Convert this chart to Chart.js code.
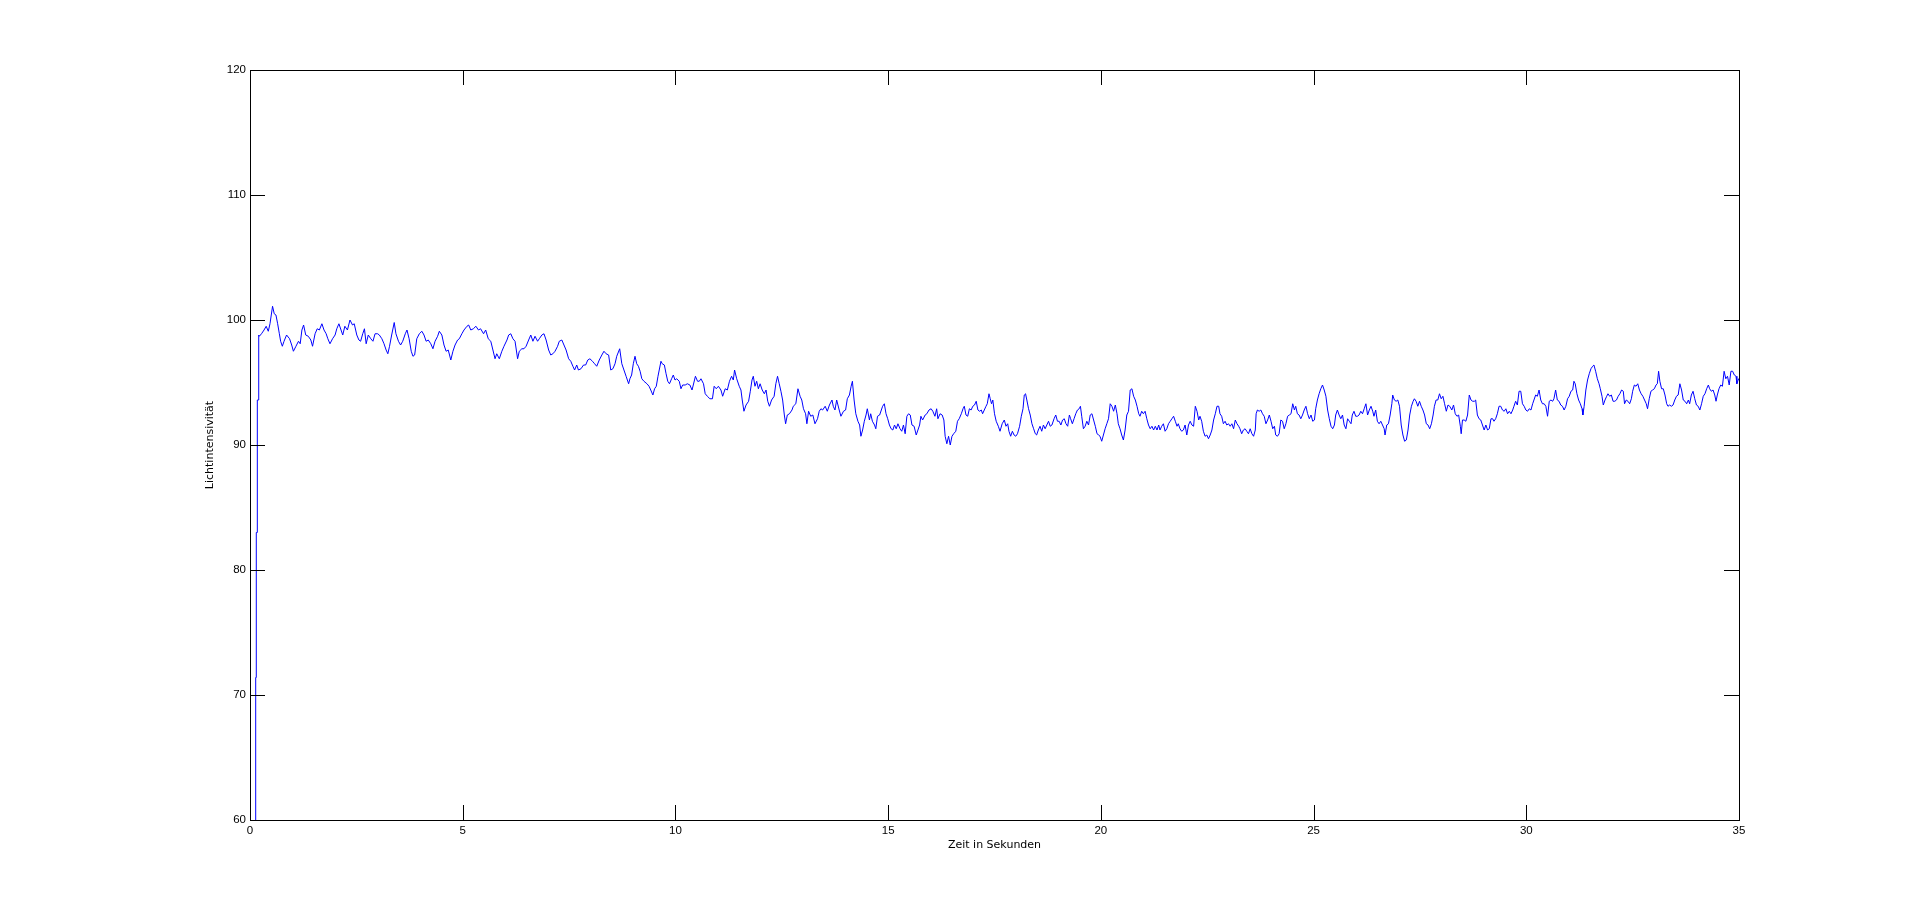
<!DOCTYPE html>
<html>
<head>
<meta charset="utf-8">
<title>Lichtintensivität</title>
<script src="https://cdn.jsdelivr.net/npm/chart.js@4.4.1/dist/chart.umd.min.js"></script>
<style>
    html, body { margin: 0; padding: 0; background: #fff; }
    canvas { display: block; }
</style>
</head>
<body>
<canvas id="licht-chart" width="1921" height="921"></canvas>
<script>
// Messzeit in Sekunden (x) und Lichtintensität (y)
const zeit = [
    0.13, 0.134, 0.148, 0.148, 0.172, 0.172, 0.205, 0.205, 0.22, 0.27,
    0.33, 0.38, 0.43, 0.47, 0.53, 0.57, 0.61, 0.65, 0.69, 0.72,
    0.76, 0.80, 0.86, 0.93, 0.98, 1.02, 1.08, 1.14, 1.18, 1.22,
    1.26, 1.31, 1.37, 1.43, 1.47, 1.53, 1.58, 1.63, 1.69, 1.74,
    1.79, 1.83, 1.88, 1.94, 2.00, 2.04, 2.09, 2.14, 2.18, 2.23,
    2.29, 2.35, 2.41, 2.45, 2.51, 2.56, 2.60, 2.65, 2.69, 2.73,
    2.78, 2.84, 2.89, 2.94, 3.00, 3.04, 3.10, 3.15, 3.20, 3.24,
    3.28, 3.33, 3.39, 3.43, 3.49, 3.54, 3.59, 3.65, 3.69, 3.74,
    3.79, 3.83, 3.87, 3.92, 3.98, 4.04, 4.09, 4.14, 4.19, 4.25,
    4.30, 4.35, 4.41, 4.45, 4.51, 4.56, 4.61, 4.66, 4.72, 4.77,
    4.82, 4.88, 4.92, 4.98, 5.03, 5.10, 5.14, 5.19, 5.25, 5.31,
    5.37, 5.42, 5.49, 5.54, 5.60, 5.66, 5.71, 5.76, 5.80, 5.86,
    5.92, 5.97, 6.04, 6.08, 6.13, 6.18, 6.23, 6.29, 6.33, 6.39,
    6.44, 6.49, 6.55, 6.60, 6.65, 6.70, 6.76, 6.80, 6.86, 6.91,
    6.96, 7.02, 7.07, 7.12, 7.17, 7.23, 7.27, 7.33, 7.38, 7.43,
    7.49, 7.54, 7.59, 7.63, 7.68, 7.72, 7.78, 7.84, 7.89, 7.94,
    7.99, 8.05, 8.10, 8.15, 8.21, 8.27, 8.32, 8.37, 8.43, 8.48,
    8.53, 8.58, 8.62, 8.69, 8.74, 8.79, 8.84, 8.90,
    8.93, 8.97, 9.01, 9.05, 9.09, 9.13, 9.17, 9.21, 9.26, 9.33,
    9.38, 9.42, 9.47, 9.51, 9.55, 9.59, 9.66, 9.69, 9.74, 9.78,
    9.82, 9.86, 9.91, 9.95, 9.99, 10.03, 10.09, 10.13, 10.17, 10.23,
    10.28, 10.34, 10.39, 10.42, 10.47, 10.52, 10.56, 10.60, 10.66, 10.70,
    10.75, 10.81, 10.87, 10.91, 10.96, 11.01, 11.07, 11.11, 11.17, 11.22,
    11.27, 11.32, 11.36, 11.39, 11.44, 11.50, 11.54, 11.57, 11.61, 11.66,
    11.72, 11.76, 11.80, 11.83, 11.87, 11.91, 11.95, 11.99, 12.04, 12.09,
    12.13, 12.17, 12.21, 12.26, 12.32, 12.36, 12.40, 12.44, 12.48, 12.52,
    12.56, 12.59, 12.63, 12.68, 12.74, 12.77, 12.83, 12.88, 12.93, 12.97,
    13.01, 13.06, 13.09, 13.13, 13.18, 13.23, 13.28, 13.34, 13.38, 13.42,
    13.46, 13.52, 13.57, 13.62, 13.68, 13.71, 13.75, 13.79, 13.85, 13.89,
    13.95, 14.00, 14.04, 14.09, 14.13, 14.16, 14.20, 14.24, 14.29, 14.33,
    14.36, 14.40, 14.44, 14.48, 14.51, 14.56, 14.59, 14.63, 14.68, 14.71,
    14.75, 14.80, 14.84, 14.87, 14.91, 14.95, 14.99, 15.03, 15.07, 15.11,
    15.15, 15.19, 15.23, 15.28, 15.32, 15.36, 15.40, 15.44, 15.48,
    15.52, 15.56, 15.61, 15.66, 15.70, 15.74, 15.77, 15.81, 15.87, 15.91,
    15.96, 16.01, 16.05, 16.10, 16.14, 16.17, 16.22, 16.27, 16.31, 16.34,
    16.38, 16.42, 16.46, 16.50, 16.54, 16.59, 16.63, 16.67, 16.72, 16.76,
    16.79, 16.83, 16.87, 16.91, 16.95, 16.99, 17.03, 17.07, 17.11, 17.15,
    17.19, 17.22, 17.26, 17.30, 17.33, 17.37, 17.40, 17.43, 17.46, 17.50,
    17.54, 17.59, 17.63, 17.68, 17.73, 17.77, 17.81, 17.84, 17.88, 17.92,
    17.96, 18.00, 18.04, 18.09, 18.13, 18.17, 18.20, 18.23, 18.26, 18.30,
    18.34, 18.38, 18.42, 18.46, 18.49, 18.53, 18.57, 18.61, 18.65, 18.69,
    18.73, 18.77, 18.81, 18.85, 18.90, 18.94, 18.98, 19.02, 19.06, 19.10,
    19.14, 19.18, 19.22, 19.26, 19.29, 19.33, 19.37, 19.41, 19.45, 19.49,
    19.52, 19.55, 19.59, 19.63, 19.67, 19.71, 19.75, 19.79, 19.83, 19.87,
    19.91, 19.95, 19.98, 20.02, 20.06, 20.10, 20.14, 20.18, 20.22, 20.26,
    20.30, 20.34, 20.38, 20.41, 20.45, 20.49, 20.53, 20.57, 20.61, 20.65,
    20.69, 20.73, 20.77, 20.81, 20.85, 20.89, 20.92, 20.96, 21.00, 21.04,
    21.08, 21.12, 21.16, 21.20, 21.24, 21.28, 21.32, 21.36, 21.39, 21.43,
    21.47, 21.51, 21.55, 21.59, 21.63, 21.67, 21.71, 21.75, 21.79, 21.82,
    21.86, 21.90, 21.94, 21.98, 22.02, 22.06, 22.10, 22.14, 22.18, 22.22,
    22.26, 22.30, 22.33, 22.37, 22.41, 22.45, 22.49, 22.53, 22.57, 22.61,
    22.65, 22.69, 22.73, 22.77, 22.80, 22.84, 22.88, 22.92, 22.96, 23.00,
    23.04, 23.08, 23.12, 23.16, 23.20, 23.24, 23.27, 23.31, 23.35, 23.39,
    23.43, 23.47, 23.51, 23.55, 23.59, 23.63, 23.65, 23.68, 23.72, 23.76,
    23.80, 23.84, 23.88, 23.92, 23.96, 24.00, 24.04, 24.08, 24.11, 24.15,
    24.19, 24.23, 24.27, 24.31, 24.35, 24.39, 24.43, 24.47, 24.51, 24.55,
    24.58, 24.62, 24.66, 24.70, 24.74, 24.78, 24.82, 24.86, 24.90, 24.94,
    24.98, 25.02, 25.05, 25.09, 25.13, 25.17, 25.21, 25.25, 25.29, 25.33,
    25.37, 25.41, 25.45, 25.49, 25.52, 25.56, 25.60, 25.64, 25.68, 25.72,
    25.76, 25.80, 25.84, 25.88, 25.91, 25.95, 25.99, 26.03, 26.07, 26.11,
    26.15, 26.19, 26.23, 26.27, 26.31, 26.35, 26.39, 26.42, 26.46, 26.50,
    26.54, 26.58, 26.62, 26.66, 26.68, 26.72, 26.76, 26.80, 26.84, 26.86,
    26.90, 26.94, 26.98, 27.02, 27.06, 27.10, 27.14, 27.18, 27.22, 27.26,
    27.30, 27.34, 27.37, 27.41, 27.45, 27.49, 27.53, 27.57, 27.61, 27.65,
    27.69, 27.73, 27.77, 27.81, 27.84, 27.88, 27.92, 27.96, 28.00, 28.04,
    28.08, 28.12, 28.16, 28.20,
    28.25, 28.29, 28.33, 28.37, 28.41, 28.45, 28.47, 28.50, 28.54, 28.58,
    28.62, 28.66, 28.70, 28.74, 28.78, 28.81, 28.85, 28.89, 28.93, 28.97,
    29.01, 29.05, 29.09, 29.13, 29.17, 29.21, 29.24, 29.28, 29.32, 29.36,
    29.40, 29.44, 29.48, 29.52, 29.56, 29.60, 29.64, 29.68, 29.71, 29.75,
    29.79, 29.83, 29.87, 29.91, 29.95, 29.99, 30.03, 30.07, 30.11, 30.15,
    30.18, 30.22, 30.26, 30.30, 30.34, 30.38, 30.42, 30.46, 30.50, 30.54,
    30.58, 30.62, 30.65, 30.69, 30.73, 30.77, 30.81, 30.85, 30.89, 30.93,
    30.97, 31.01, 31.05, 31.09, 31.12, 31.15, 31.19, 31.23, 31.27, 31.31,
    31.33, 31.36, 31.40, 31.44, 31.48, 31.52, 31.56, 31.59, 31.63, 31.67,
    31.71, 31.74, 31.78, 31.81, 31.85, 31.89, 31.92, 31.96, 32.00, 32.04,
    32.08, 32.12, 32.16, 32.20, 32.24, 32.28, 32.31, 32.35, 32.39, 32.43,
    32.47, 32.50, 32.54, 32.58, 32.62, 32.66, 32.70, 32.74, 32.78, 32.82,
    32.85, 32.89, 32.93, 32.97, 33.01, 33.05, 33.08, 33.11, 33.14, 33.18,
    33.22, 33.26, 33.30, 33.33, 33.37, 33.41, 33.45, 33.49, 33.53, 33.57,
    33.61, 33.65, 33.69, 33.73, 33.77, 33.81, 33.84, 33.88, 33.92, 33.96,
    34.00, 34.04, 34.08, 34.12, 34.16, 34.20, 34.24, 34.28, 34.31, 34.35,
    34.39, 34.43, 34.46, 34.49, 34.53, 34.57, 34.61, 34.65, 34.69, 34.73,
    34.77, 34.81, 34.85, 34.89, 34.93, 34.95, 34.99, 35.00
];
const licht = [
    50, 71.4, 71.4, 83.0, 83.0, 93.6, 93.6, 98.8, 98.7, 98.9,
    99.2, 99.5, 99.1, 99.7, 101.1, 100.5, 100.4, 99.7, 98.9, 98.3,
    97.9, 98.3, 98.8, 98.5, 98.0, 97.5, 97.9, 98.3, 98.1, 99.2,
    99.6, 98.8, 98.7, 98.4, 97.9, 98.9, 99.3, 99.2, 99.7, 99.2,
    98.9, 98.5, 98.1, 98.5, 98.8, 99.3, 99.7, 99.2, 98.8, 99.5,
    99.2, 100.0, 99.6, 99.7, 98.8, 98.4, 98.3, 98.9, 99.3, 98.1,
    98.8, 98.5, 98.3, 98.9, 98.9, 98.8, 98.5, 98.1, 97.6, 97.3,
    97.9, 98.8, 99.8, 98.9, 98.3, 98.0, 98.3, 98.9, 99.2, 98.5,
    97.5, 97.1, 97.2, 98.5, 98.9, 99.1, 98.8, 98.3, 98.4, 98.1,
    97.7, 98.3, 98.7, 99.1, 98.8, 98.0, 97.5, 97.6, 96.8, 97.5,
    98.0, 98.4, 98.5, 98.9, 99.2, 99.5, 99.6, 99.2, 99.3, 99.5,
    99.2, 99.3, 98.9, 99.2, 98.5, 98.3, 97.6, 96.9, 97.3, 96.9,
    97.5, 97.9, 98.4, 98.8, 98.9, 98.5, 98.3, 96.9, 97.5, 97.7,
    97.7, 97.9, 98.4, 98.8, 98.3, 98.7, 98.3, 98.5, 98.8, 98.9,
    98.4, 97.6, 97.2, 97.3, 97.5, 97.9, 98.3, 98.4, 98.0, 97.6,
    96.9, 96.7, 96.3, 96.0, 96.4, 96.0, 96.1, 96.4, 96.4, 96.8,
    96.9, 96.7, 96.5, 96.3, 96.8, 97.2, 97.5, 97.3, 97.2, 96.0,
    96.1, 96.5, 97.1, 97.7, 96.5, 96.0, 95.5, 94.9,
    95.3, 95.6, 96.5, 97.1, 96.5, 96.3, 95.9, 95.3, 95.1, 94.9,
    94.7, 94.4, 94.0, 94.5, 94.7, 95.5, 96.7, 96.5, 96.4, 95.7,
    95.1, 94.9, 95.3, 95.6, 95.2, 95.3, 95.1, 94.5, 94.8, 94.8,
    94.9, 94.8, 94.4, 94.8, 95.5, 95.1, 95.1, 95.3, 94.9, 94.1,
    93.9, 93.7, 93.7, 94.7, 94.5, 94.7, 94.4, 93.9, 94.5, 94.4,
    95.1, 95.5, 95.2, 96.0, 95.3, 94.7, 94.4, 93.6, 92.7, 93.2,
    93.5, 94.3, 95.2, 95.5, 94.7, 95.1, 94.5, 94.9, 94.4, 94.1,
    94.4, 93.5, 93.1, 93.6, 93.9, 94.9, 95.5, 94.9, 94.3, 93.6,
    92.4, 91.7, 92.4, 92.5, 92.8, 93.1, 93.3, 94.5, 93.9, 93.6,
    92.9, 92.5, 91.7, 92.7, 92.3, 92.4, 91.7, 92.1, 92.7, 92.9,
    92.8, 93.1, 92.7, 93.2, 93.6, 93.1, 92.8, 93.6, 92.8, 92.3,
    92.7, 92.8, 93.7, 94.0, 94.7, 95.1, 93.6, 92.5, 91.9, 91.6,
    90.7, 91.2, 91.9, 92.4, 92.9, 92.0, 92.5, 91.9, 91.6, 91.3,
    92.3, 92.4, 92.8, 93.1, 93.3, 92.5, 92.1, 91.6, 91.3, 91.2,
    91.6, 91.3, 91.7, 91.3, 91.1, 91.6, 90.9, 92.3, 92.5,
    92.4, 91.6, 91.5, 90.8, 91.2, 91.6, 92.3, 92.0, 92.4, 92.5,
    92.8, 92.9, 92.7, 92.3, 92.9, 92.1, 92.5, 92.4, 92.0, 90.7,
    90.1, 90.7, 90.0, 90.7, 90.9, 91.1, 91.9, 92.1, 92.5, 92.9,
    93.1, 92.4, 92.3, 92.9, 92.8, 93.1, 93.2, 93.5, 92.8, 92.7,
    92.8, 92.5, 92.8, 93.1, 93.3, 94.1, 93.7, 93.3, 93.6, 92.5,
    91.9, 91.5, 91.1, 91.7, 92.0, 91.5, 91.7, 91.1, 90.7, 91.1,
    90.8, 90.7, 90.9, 91.5, 92.3, 92.9, 94.0, 94.1, 93.6, 92.9,
    92.4, 91.7, 91.3, 90.9, 90.8, 91.2, 91.5, 91.1, 91.6, 91.3,
    91.6, 91.9, 91.5, 91.6, 92.1, 92.4, 91.9, 91.9, 91.6, 92.0,
    92.1, 91.7, 91.5, 92.4, 92.1, 91.7, 92.1, 92.5, 92.8, 92.9,
    93.1, 92.3, 91.3, 91.5, 91.9, 91.6, 92.4, 92.5, 92.0, 91.5,
    90.9, 90.8, 90.7, 90.3, 90.8, 91.3, 91.7, 92.1, 93.3, 93.1,
    92.7, 93.2, 92.5, 91.7, 91.3, 90.8, 90.4, 91.2, 92.4, 92.7,
    94.4, 94.5, 93.9, 93.6, 93.1, 92.5, 92.3, 92.7, 92.5, 92.7,
    92.1, 91.6, 91.3, 91.5, 91.2, 91.5, 91.2, 91.6, 91.2, 91.5,
    91.7, 91.1, 91.3, 91.7, 91.9, 92.1, 92.3, 91.9, 91.5, 91.7,
    91.3, 91.1, 91.2, 91.6, 90.8, 91.6, 91.9, 91.6, 91.5, 93.1,
    92.7, 92.0, 92.3, 91.9, 91.1, 90.7, 90.8, 90.5, 90.8, 91.2,
    92.0, 92.5, 93.1, 93.1, 92.5, 92.3, 91.7, 91.9, 91.6, 91.7,
    91.5, 91.7, 91.3, 92.0, 91.7, 91.5, 91.3, 90.9, 91.2, 91.3,
    91.1, 90.9, 91.3, 90.9, 90.7, 91.2, 92.5, 92.8, 92.7, 92.8,
    92.5, 92.3, 91.7, 92.0, 92.4, 91.9, 91.3, 91.5, 90.8, 90.7,
    90.9, 92.0, 91.9, 91.3, 91.7, 92.3, 92.4, 92.5, 93.3, 92.8,
    93.1, 92.5, 92.4, 92.1, 92.4, 92.8, 93.1, 92.5, 92.1, 92.4,
    91.9, 92.0, 92.9, 93.6, 94.1, 94.5, 94.8, 94.4, 93.9, 92.8,
    92.1, 91.5, 91.3, 91.6, 92.4, 92.8, 92.4, 92.1, 92.4, 91.6,
    91.3, 92.1, 91.9, 91.7, 92.4, 92.7, 92.3, 92.3, 92.4, 92.7,
    92.5, 92.9, 93.3, 92.4, 92.8, 93.1, 92.7, 92.3, 92.8, 91.9,
    91.7, 91.9, 91.6, 91.3, 90.8, 91.6, 91.7, 92.4, 93.3, 94.0,
    93.6, 93.5, 93.6, 93.1, 91.6, 90.8, 90.3, 90.4, 91.2, 92.4,
    93.1, 93.5, 93.7, 93.5, 93.1, 93.5, 93.1, 92.8, 92.4, 91.7,
    91.6, 91.3, 91.7, 92.4, 93.1, 93.6, 93.6, 94.1, 93.7, 93.9,
    93.3, 92.7, 93.2, 93.1,
    92.8, 93.2, 92.5, 92.3, 92.4, 91.5, 90.9, 92.0, 92.0, 91.9,
    92.4, 94.0, 93.6, 93.5, 93.5, 93.6, 92.4, 92.1, 92.0, 91.6,
    91.2, 91.6, 91.2, 91.3, 92.1, 92.1, 91.9, 92.1, 92.5, 93.1,
    93.1, 92.8, 92.7, 92.9, 92.5, 92.7, 92.5, 92.8, 93.1, 93.5,
    93.2, 94.3, 94.3, 93.3, 93.1, 92.8, 92.7, 92.9, 92.8, 93.3,
    93.6, 94.0, 93.9, 94.4, 93.6, 93.3, 93.3, 93.1, 92.3, 93.5,
    93.6, 93.5, 93.7, 94.4, 93.6, 93.5, 93.2, 93.1, 92.8, 93.1,
    93.7, 93.9, 94.3, 94.4, 95.1, 94.9, 94.1, 93.6, 93.3, 92.9,
    92.4, 93.1, 94.4, 95.2, 95.7, 96.1, 96.3, 96.4, 95.9, 95.3,
    94.9, 94.5, 93.9, 93.2, 93.6, 93.9, 94.1, 93.9, 94.0, 93.5,
    93.5, 93.6, 93.9, 94.1, 94.4, 94.3, 93.3, 93.6, 93.5, 93.3,
    93.7, 94.3, 94.8, 94.7, 94.9, 94.4, 94.1, 93.9, 93.6, 93.3,
    92.9, 93.7, 94.3, 94.4, 94.5, 94.8, 94.9, 95.9, 95.1, 94.5,
    94.5, 94.0, 93.3, 93.1, 93.2, 93.1, 93.2, 93.6, 93.9, 94.0,
    94.9, 94.4, 93.6, 93.5, 93.3, 93.6, 93.3, 94.0, 94.3, 93.7,
    93.2, 93.1, 92.8, 93.3, 93.9, 94.1, 94.5, 94.8, 94.5, 94.3,
    94.4, 94.0, 93.5, 94.0, 94.5, 94.8, 94.7, 95.9, 95.3, 95.5,
    94.8, 95.9, 95.9, 95.6, 95.5, 94.9, 95.3, 95.2
];

const xTicks = [0, 5, 10, 15, 20, 25, 30, 35];
const yTicks = [60, 70, 80, 90, 100, 110, 120];

(function () {
    const ctx = document.getElementById('licht-chart');

    // MATLAB style box with inward ticks on all four sides
    const matlabBox = {
        id: 'matlabBox',
        afterDatasetsDraw(chart) {
            const {ctx, chartArea: a, scales: {x, y}} = chart;
            const tick = 15;
            ctx.save();
            ctx.strokeStyle = '#000';
            ctx.lineWidth = 1;
            ctx.beginPath();
            yTicks.forEach(v => {
                const py = Math.round(y.getPixelForValue(v)) + 0.5;
                ctx.moveTo(a.left, py); ctx.lineTo(a.left + tick, py);
                ctx.moveTo(a.right, py); ctx.lineTo(a.right - tick, py);
            });
            xTicks.forEach(v => {
                const px = Math.round(x.getPixelForValue(v)) + 0.5;
                ctx.moveTo(px, a.bottom); ctx.lineTo(px, a.bottom - tick);
                ctx.moveTo(px, a.top); ctx.lineTo(px, a.top + tick);
            });
            ctx.stroke();
            ctx.strokeRect(a.left + 0.5, a.top + 0.5, a.right - a.left, a.bottom - a.top);
            ctx.restore();
        }
    };

    const tickFont = {family: 'Liberation Sans, Arial, sans-serif', size: 11.5};
    const titleFont = {family: 'DejaVu Sans, sans-serif', size: 11};

    new Chart(ctx, {
        type: 'line',
        data: {
            datasets: [{
                data: zeit.map((t, i) => ({x: t, y: licht[i]})),
                borderColor: '#0000ff',
                borderWidth: 1,
                pointRadius: 0,
                tension: 0,
                fill: false,
            }],
        },
        options: {
            responsive: false,
            animation: false,
            devicePixelRatio: 1,
            layout: {padding: {left: 170, right: 182, top: 70, bottom: 51}},
            plugins: {
                legend: {display: false},
                tooltip: {enabled: false},
            },
            scales: {
                x: {
                    type: 'linear',
                    min: 0,
                    max: 35,
                    afterBuildTicks: s => { s.ticks = xTicks.map(v => ({value: v})); },
                    afterFit: s => { s.height = 50; },
                    grid: {display: false, drawTicks: false},
                    border: {display: false},
                    ticks: {color: '#000', font: tickFont, padding: 4, maxRotation: 0, autoSkip: false},
                    title: {
                        display: true,
                        text: 'Zeit in Sekunden',
                        color: '#000',
                        font: titleFont,
                        padding: {top: 0, bottom: 18},
                    },
                },
                y: {
                    min: 60,
                    max: 120,
                    afterBuildTicks: s => { s.ticks = yTicks.map(v => ({value: v})); },
                    afterFit: s => { s.width = 80; },
                    grid: {display: false, drawTicks: false},
                    border: {display: false},
                    ticks: {color: '#000', font: tickFont, padding: 4, autoSkip: false},
                    title: {
                        display: true,
                        text: 'Lichtintensivität',
                        color: '#000',
                        font: titleFont,
                        padding: {top: 34, bottom: 0},
                    },
                },
            },
        },
        plugins: [matlabBox],
    });
})();
</script>
</body>
</html>
